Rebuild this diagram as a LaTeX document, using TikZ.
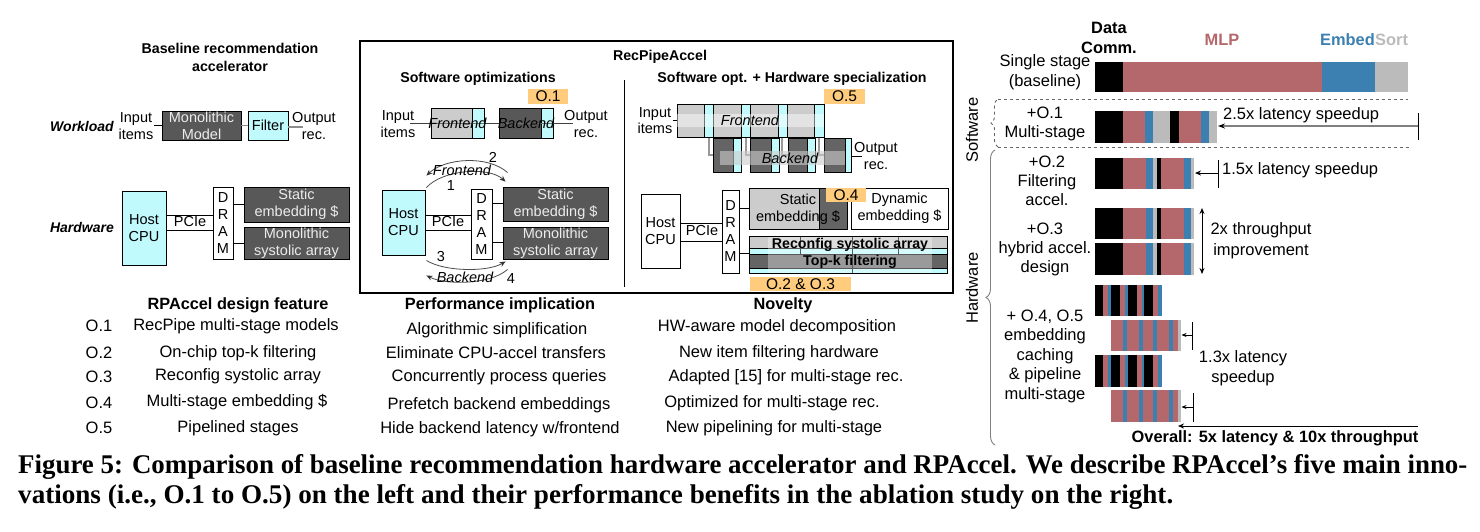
\documentclass[tikz,border=0pt]{standalone}
\usepackage{fontspec}
\usepackage{graphicx}
\setmainfont{Liberation Sans}
\newfontfamily\serifcap{Liberation Serif}
\usetikzlibrary{arrows.meta,calc,decorations.pathreplacing}
\definecolor{cyanL}{RGB}{192,250,253}
\definecolor{dkg}{RGB}{88,88,88}
\definecolor{dkgb}{RGB}{100,100,100}
\definecolor{lgr}{RGB}{204,204,204}
\definecolor{orng}{RGB}{255,203,125}
\definecolor{mlp}{RGB}{181,104,107}
\definecolor{emb}{RGB}{60,127,177}
\definecolor{srt}{RGB}{187,187,187}
\definecolor{txtl}{RGB}{236,236,236}
\newcommand{\fDia}{\fontsize{14.5}{17}\selectfont}
\newcommand{\fDiaB}{\fontsize{14.2}{18}\selectfont\bfseries}
\newcommand{\fDiaI}{\fontsize{14.5}{17}\selectfont\itshape}
\newcommand{\fDiaBI}{\fontsize{14}{17}\selectfont\bfseries\itshape}
\newcommand{\fOr}{\fontsize{15.5}{17}\selectfont}
\newcommand{\fTab}{\fontsize{16.5}{19}\selectfont}
\newcommand{\fTabB}{\fontsize{16.3}{19}\selectfont\bfseries}
\newcommand{\fR}{\fontsize{16.5}{19.5}\selectfont}
\newcommand{\fRB}{\fontsize{16.4}{20}\selectfont\bfseries}
\newcommand{\fCap}{\fontsize{27}{30}\selectfont\serifcap\bfseries}
\newcommand{\rbox}[7]{\node[#1, minimum width={(#5)-(#3)}, minimum height={(#6)-(#4)}] (#2) at ({((#3)+(#5))/2},{((#4)+(#6))/2}) {#7};}
\newcommand{\seg}[5]{\fill[#1] (#2,#4) rectangle (#3,#5);}
\newcommand{\barFilt}[2]{\seg{black}{1095}{1123}{#1}{#2}\seg{mlp}{1123}{1146}{#1}{#2}\seg{emb}{1146}{1153}{#1}{#2}\seg{srt}{1153}{1157}{#1}{#2}\seg{black}{1157}{1161}{#1}{#2}\seg{mlp}{1161}{1184}{#1}{#2}\seg{emb}{1184}{1191}{#1}{#2}\seg{srt}{1191}{1194}{#1}{#2}}
\newcommand{\barFront}[2]{\seg{black}{1095}{1103.3}{#1}{#2}\seg{mlp}{1103.3}{1107.7}{#1}{#2}\seg{emb}{1107.7}{1110.7}{#1}{#2}\seg{black}{1110.7}{1120}{#1}{#2}\seg{mlp}{1120}{1125}{#1}{#2}\seg{emb}{1125}{1127.7}{#1}{#2}\seg{black}{1127.7}{1136.7}{#1}{#2}\seg{mlp}{1136.7}{1142.3}{#1}{#2}\seg{emb}{1142.3}{1144.3}{#1}{#2}\seg{black}{1144.3}{1153.3}{#1}{#2}\seg{mlp}{1153.3}{1158.3}{#1}{#2}\seg{emb}{1158.3}{1161.7}{#1}{#2}}
\newcommand{\barBack}[2]{\seg{mlp}{1110.7}{1123.3}{#1}{#2}\seg{emb}{1123.3}{1127.3}{#1}{#2}\seg{mlp}{1127.3}{1139.3}{#1}{#2}\seg{emb}{1139.3}{1142.7}{#1}{#2}\seg{mlp}{1142.7}{1153.3}{#1}{#2}\seg{emb}{1153.3}{1156.7}{#1}{#2}\seg{mlp}{1156.7}{1169}{#1}{#2}\seg{emb}{1169}{1173.3}{#1}{#2}\seg{mlp}{1173.3}{1177.7}{#1}{#2}\seg{srt}{1177.7}{1180.7}{#1}{#2}}
\tikzset{
 lbl/.style={inner sep=0pt, align=center, font=\fDia},
 bx/.style={draw=black, line width=0.9pt, inner sep=0pt, align=center, font=\fDia},
 dk/.style={bx, fill=dkg, text=txtl},
 bk/.style={bx, fill=dkgb},
 cy/.style={bx, fill=cyanL},
 wh/.style={bx, fill=white},
 lgb/.style={bx, fill=lgr},
 frm/.style={draw=black, line width=1.1pt, inner sep=0pt},
 org/.style={fill=orng, inner sep=0pt, font=\fOr},
 conn/.style={draw=black, line width=0.9pt},
 gconn/.style={draw=black!45, line width=1.1pt},
 gline/.style={draw=black!40, line width=1.2pt},
 arcc/.style={draw=black!70, line width=0.8pt, -{Stealth[length=6pt,width=5pt,color=black!80]}},
 rlbl/.style={inner sep=0pt, align=center, font=\fR},
 tlbl/.style={inner sep=0pt, align=center, font=\fTab},
 tick/.style={draw=black, line width=1pt},
 rarr/.style={draw=black, line width=1pt, -{Stealth[length=6pt,width=5pt]}},
 grarr/.style={draw=black!50, line width=1.2pt, -{Stealth[length=7pt,width=5pt,color=black]}},
 capn/.style={inner sep=0pt, anchor=base west},
}
\begin{document}
\begin{tikzpicture}[x=1pt,y=-1pt]
\useasboundingbox (0,0) rectangle (1480,531);
\fill[white] (0,0) rectangle (1480,531);

% ---------------- Baseline (left) ----------------
\node[lbl, font=\fDiaB] (t1) at (230,57) {Baseline recommendation\\accelerator};
\node[lbl, font=\fDiaBI] (wl) at (82,126) {Workload};
\node[lbl] (in1) at (136,126.5) {Input\\items};
\rbox{dk}{mono}{162}{111}{241}{140}{Monolithic\\Model}
\rbox{cy}{filt}{248}{111}{288}{140}{Filter}
\node[lbl] (out1) at (314,126.5) {Output\\rec.};
\coordinate (out1e) at (303,127);
\draw[conn] (in1.east |- mono.west) -- (mono.west);
\draw[gconn] (mono.east) -- (filt.west);
\draw[gconn] (filt.east |- out1e) -- (out1e);

\node[lbl, font=\fDiaBI] (hw) at (82,227) {Hardware};
\rbox{cy}{host1}{122}{191}{166}{265}{Host\\CPU}
\rbox{wh}{dram1}{213}{187}{233}{259}{\fontsize{14.5}{17.7}\selectfont D\\R\\A\\M}
\rbox{dk}{stat1}{244}{187}{349}{222}{Static\\embedding \$}
\rbox{dk}{sys1}{244}{227}{349}{259}{Monolithic\\systolic array}
\draw[conn] (host1.east |- 0,215) -- (dram1.west |- 0,215);
\draw[conn] (host1.east |- 0,230) -- (dram1.west |- 0,230);
\node[lbl] (pcie1) at (190,222) {PCIe};
\draw[conn] (dram1.east |- stat1.west) -- (stat1.west);
\draw[conn] (dram1.east |- sys1.west) -- (sys1.west);

% ---------------- RecPipeAccel frame ----------------
\rbox{frm}{frame}{360}{41}{953}{293}{}
\node[lbl, font=\fDiaB] (rpa) at (660,57) {RecPipeAccel};
\node[lbl, font=\fDiaB] (swo) at (478,79) {Software optimizations};
\node[lbl, font=\fDiaB] (swhw) at (792,79) {Software opt. + Hardware specialization};
\draw[line width=0.8pt] (624,80) -- (624,287);

% software optimizations (mid-left)
\rbox{org}{o1}{528}{89}{568}{104}{O.1}
\node[lbl] (in2) at (398,124) {Input\\items};
\rbox{lgb}{fe2}{431}{108}{484}{138}{}
\draw[fill=cyanL, line width=0.9pt] (472,108) rectangle (484,138);
\rbox{dk}{be2}{499}{108}{553}{138}{}
\draw[fill=cyanL, line width=0.9pt] (541,108) rectangle (553,138);
\node[lbl] (out2) at (586,124) {Output\\rec.};
\coordinate (l2a) at (410,123);
\coordinate (l2b) at (573,123);
\draw[draw=black!75, line width=0.8pt] (l2a) -- (fe2.west |- l2a) (fe2.east |- l2a) -- (be2.west |- l2a) (be2.east |- l2a) -- (l2b);
\draw[draw=black!55, line width=0.6pt] (fe2.west |- l2a) -- (fe2.east |- l2a) (be2.west |- l2a) -- (be2.east |- l2a);
\node[lbl, font=\fDiaI] (fe2t) at (457.5,123) {Frontend};
\node[lbl, font=\fDiaI] (be2t) at (526,123) {Backend};

\rbox{cy}{host2}{382}{190}{425}{255}{Host\\CPU}
\rbox{wh}{dram2}{471}{189}{492}{259}{\fontsize{14.5}{17.7}\selectfont D\\R\\A\\M}
\rbox{dk}{stat2}{503}{187}{608}{221}{Static\\embedding \$}
\rbox{dk}{sys2}{503}{227}{608}{259}{Monolithic\\systolic array}
\draw[conn] (host2.east |- 0,215) -- (dram2.west |- 0,215);
\draw[conn] (host2.east |- 0,230) -- (dram2.west |- 0,230);
\node[lbl] (pcie2) at (448,222) {PCIe};
\draw[conn] (dram2.east |- 0,203) -- (stat2.west |- 0,203);
\draw[conn] (dram2.east |- 0,242) -- (sys2.west |- 0,242);

\draw[arcc] ($(host2.north east)+(1,-2)$) .. controls (442,170) and (488,166) .. ($(stat2.north west)+(3,-5)$);
\draw[arcc] ($(stat2.north west)+(5,-14)$) .. controls (488,155) and (445,158) .. ($(host2.north east)+(1,-14)$);
\node[lbl, font=\fDiaI] (fa) at (462,170) {Frontend};
\node[lbl] (n2) at (493,157) {2};
\node[lbl] (n1) at (451,186) {1};
\draw[arcc] ($(host2.south east)+(1,5)$) .. controls (445,272) and (488,272) .. ($(sys2.south west)+(3,2)$);
\draw[arcc] ($(sys2.south west)+(5,10)$) .. controls (490,285) and (445,285) .. ($(host2.south east)+(1,20)$);
\node[lbl] (n3) at (441,257) {3};
\node[lbl, font=\fDiaI] (ba) at (465,277) {Backend};
\node[lbl] (n4) at (511,279) {4};

% software opt + hardware specialization (mid-right)
\rbox{org}{o5}{824}{89}{865}{104}{O.5}
\node[lbl, font=\fontsize{14.5}{16}\selectfont] (in3) at (655,121) {Input\\items};
\rbox{lgb}{fe3}{677}{104}{824}{137}{}
\foreach \a/\b in {704/713,741/750,778/787,814/824} {\draw[fill=cyanL, line width=0.9pt] (\a,104) rectangle (\b,137);}
\draw[conn] (in3.east |- fe3.west) -- (fe3.west);
\coordinate (k1) at (709,137.5);
\coordinate (k2) at (746,137.5);
\coordinate (k3) at (782,137.5);
\coordinate (k4) at (819,137.5);
\rbox{bk}{be3a}{713}{138}{741}{172}{}
\rbox{bk}{be3b}{750}{138}{779}{172}{}
\rbox{bk}{be3c}{788}{138}{815}{172}{}
\rbox{bk}{be3d}{824}{138}{851}{172}{}
\draw[gline] (k1) |- (be3a.west);
\draw[gline] (k2) |- (be3b.west);
\draw[gline] (k3) |- (be3c.west);
\draw[gline] (k4) |- (be3d.west);
\foreach \a/\b in {733/741,771/779,807/815,845/851} {\draw[fill=cyanL, line width=0.9pt] (\a,138) rectangle (\b,172);}
\fill[white, fill opacity=0.45] (677,114) rectangle (824,127);
\fill[black!20, fill opacity=0.6] (720,151) rectangle (845,165);
\node[lbl, font=\fDiaI] (fe3t) at (750,120) {Frontend};
\node[lbl, font=\fDiaI] (be3t) at (790,158) {Backend};
\coordinate (o3e) at (862,156);
\draw[conn] (be3d.east |- o3e) -- (o3e);
\node[lbl] (out3) at (876,156) {Output\\rec.};

\rbox{wh}{host3}{641}{194}{680}{268}{Host\\CPU}
\rbox{wh}{dram3}{722}{190}{739}{273}{\fontsize{14.5}{17}\selectfont D\\R\\A\\M}
\draw[conn] (host3.east |- 0,223) -- (dram3.west |- 0,223);
\draw[conn] (host3.east |- 0,241) -- (dram3.west |- 0,241);
\node[lbl] (pcie3) at (702,231) {PCIe};
\rbox{lgb}{stat3}{749}{188}{847}{229}{}
\draw[fill=dkgb, line width=0.9pt] (819,188) rectangle (847,229);
\draw[line width=0.9pt] (749,188) rectangle (847,229);
\node[lbl, font=\fontsize{14.5}{16.5}\selectfont] (stat3t) at (798,209) {Static\\embedding \$};
\draw[conn] (dram3.east |- stat3.west) -- (stat3.west);
\rbox{wh}{dyn3}{851}{188}{948}{229}{Dynamic\\embedding \$}
\rbox{org}{o4}{826}{188}{866}{202}{O.4}

\rbox{lgb}{recb}{749}{236}{947}{273}{}
\fill[cyanL] (749,248) rectangle (947,254);
\fill[dkgb] (749,254) rectangle (947,268);
\fill[cyanL] (749,268) rectangle (947,273);
\draw[line width=0.6pt] (749,248) -- (947,248) (749,254) -- (947,254) (749,268) -- (947,268);
\draw[line width=0.6pt] (800,236) -- (800,254) (852,236) -- (852,273) (898,236) -- (898,254);
\fill[white, fill opacity=0.35] (768,236) rectangle (932,273);
\draw[line width=0.9pt] (749,236) rectangle (947,273);
\node[lbl, font=\fDiaB] (rect) at (850,245) {Reconfig systolic array};
\node[lbl, font=\fDiaB] (topk) at (850,262) {Top-k filtering};
\draw[conn] (dram3.east |- 0,253) -- (recb.west |- 0,253);
\rbox{org}{o23}{750}{277}{851}{291}{O.2 \& O.3}

% ---------------- Table ----------------
\node[lbl, font=\fTabB] (h1) at (238,305) {RPAccel design feature};
\node[lbl, font=\fTabB] (h2) at (500,305) {Performance implication};
\node[lbl, font=\fTabB] (h3) at (783,305) {Novelty};
\node[tlbl] (r1a) at (99,326) {O.1};
\node[tlbl] (r2a) at (99,353) {O.2};
\node[tlbl] (r3a) at (99,377) {O.3};
\node[tlbl] (r4a) at (99,403) {O.4};
\node[tlbl] (r5a) at (99,428) {O.5};
\node[tlbl] (r1b) at (236,326) {RecPipe multi-stage models};
\node[tlbl] (r2b) at (238,353) {On-chip top-k filtering};
\node[tlbl] (r3b) at (238,376) {Reconfig systolic array};
\node[tlbl] (r4b) at (237,402) {Multi-stage embedding \$};
\node[tlbl] (r5b) at (238,428) {Pipelined stages};
\node[tlbl] (r1c) at (497,330) {Algorithmic simplification};
\node[tlbl] (r2c) at (496,353) {Eliminate CPU-accel transfers};
\node[tlbl] (r3c) at (499,377) {Concurrently process queries};
\node[tlbl] (r4c) at (499,405) {Prefetch backend embeddings};
\node[tlbl] (r5c) at (500,429) {Hide backend latency w/frontend};
\node[tlbl] (r1d) at (777,327) {HW-aware model decomposition};
\node[tlbl] (r2d) at (779,353) {New item filtering hardware};
\node[tlbl] (r3d) at (786,377) {Adapted [15] for multi-stage rec.};
\node[tlbl] (r4d) at (772,403) {Optimized for multi-stage rec.};
\node[tlbl] (r5d) at (774,428) {New pipelining for multi-stage};

% ---------------- Right panel ----------------
\node[rlbl, font=\fRB] (dc) at (1109,38) {Data\\Comm.};
\node[rlbl, font=\fRB, text=mlp] (mlpl) at (1222,40) {MLP};
\node[rlbl, font=\fRB, text=emb, anchor=east] (embl) at (1375,40) {Embed};
\node[rlbl, font=\fRB, text=srt, anchor=west] (srtl) at (1375,40) {Sort};

\node[rlbl, font=\fontsize{16.5}{20}\selectfont] (sl0) at (1045,72) {Single stage\\(baseline)};
\seg{black}{1095}{1123}{62}{92}\seg{mlp}{1123}{1322}{62}{92}\seg{emb}{1322}{1375}{62}{92}\seg{srt}{1375}{1408}{62}{92}

\draw[black!60, dashed, line width=0.9pt] (998,99) -- (1408,99);
\draw[black!60, dashed, line width=0.9pt] (998,147) -- (1411,147);
\draw[black!60, dashed, line width=0.9pt, decorate, decoration={brace, amplitude=7pt}] (998,147) -- (998,99);
\draw[black!50, line width=0.9pt, decorate, decoration={brace, amplitude=9pt}] (995,445) -- (995,150);
\node[rlbl, rotate=90] (swl) at (972,130) {Software};
\node[rlbl, rotate=90] (hwl) at (972,288) {Hardware};

\node[rlbl, font=\fontsize{16.5}{18.5}\selectfont] (sl1) at (1045,124) {+O.1\\Multi-stage};
\seg{black}{1095}{1123}{111}{143}\seg{mlp}{1123}{1145}{111}{143}\seg{emb}{1145}{1153}{111}{143}\seg{srt}{1153}{1170}{111}{143}\seg{black}{1170}{1179}{111}{143}\seg{mlp}{1179}{1201}{111}{143}\seg{emb}{1201}{1209}{111}{143}\seg{srt}{1209}{1217}{111}{143}
\coordinate (b1e) at (1218,126);
\coordinate (t1a) at (1418,113);
\coordinate (t1b) at (1418,140);
\draw[tick] (t1a) -- (t1b);
\draw[grarr] (t1a |- b1e) -- (b1e);
\node[rlbl, anchor=west] (sp1) at (1223,115) {2.5x latency speedup};

\node[rlbl, font=\fontsize{16.5}{19}\selectfont] (sl2) at (1047,181) {+O.2\\Filtering\\accel.};
\barFilt{158}{189}
\coordinate (b2e) at (1195,173);
\coordinate (t2a) at (1218,160);
\coordinate (t2b) at (1218,188);
\draw[tick] (t2a) -- (t2b);
\draw[rarr] (t2a |- b2e) -- (b2e);
\node[rlbl, anchor=west] (sp2) at (1222,170) {1.5x latency speedup};

\node[rlbl, font=\fontsize{16.5}{19}\selectfont] (sl3) at (1045,249) {+O.3\\hybrid accel.\\design};
\barFilt{208}{239}
\barFilt{243}{275}
\coordinate (d3a) at (1202,208);
\coordinate (d3b) at (1202,274);
\draw[draw=black, line width=1pt, {Stealth[length=6pt,width=5pt]}-{Stealth[length=6pt,width=5pt]}] (d3a) -- (d3b);
\node[rlbl, font=\fontsize{16.5}{21}\selectfont] (sp3) at (1261,241) {2x throughput\\improvement};

\node[rlbl, font=\fontsize{16.5}{19.5}\selectfont] (sl4) at (1045,356) {+ O.4, O.5\\embedding\\caching\\\& pipeline\\multi-stage};
\barFront{285}{316}
\barBack{320}{351}
\barFront{355}{387}
\barBack{390}{422}
\coordinate (b4e) at (1181.5,335);
\coordinate (t4a) at (1192,322);
\coordinate (t4b) at (1192,350);
\draw[tick] (t4a) -- (t4b);
\draw[draw=black, line width=0.9pt, -{Stealth[length=5pt,width=4pt]}] (t4a |- b4e) -- (b4e);
\coordinate (b5e) at (1181.5,407);
\coordinate (t5a) at (1193,393);
\coordinate (t5b) at (1193,422);
\draw[tick] (t5a) -- (t5b);
\draw[draw=black, line width=0.9pt, -{Stealth[length=5pt,width=4pt]}] (t5a |- b5e) -- (b5e);
\node[rlbl, font=\fontsize{16.5}{20}\selectfont] (sp4) at (1243,368) {1.3x latency\\speedup};
\coordinate (ova) at (1418,426);
\coordinate (ovb) at (1178,426);
\draw[rarr] (ova) -- (ovb);
\node[rlbl, font=\fRB] (ovl) at (1275,438) {Overall: 5x latency \& 10x throughput};

% ---------------- Caption ----------------
\node[capn] (cap1) at (18,473) {\resizebox{1449pt}{\height}{\fCap Figure 5: Comparison of baseline recommendation hardware accelerator and RPAccel. We describe RPAccel’s five main inno-}};
\node[capn] (cap2) at (18,503) {\resizebox{1155pt}{\height}{\fCap vations (i.e., O.1 to O.5) on the left and their performance benefits in the ablation study on the right.}};
\end{tikzpicture}
\end{document}
